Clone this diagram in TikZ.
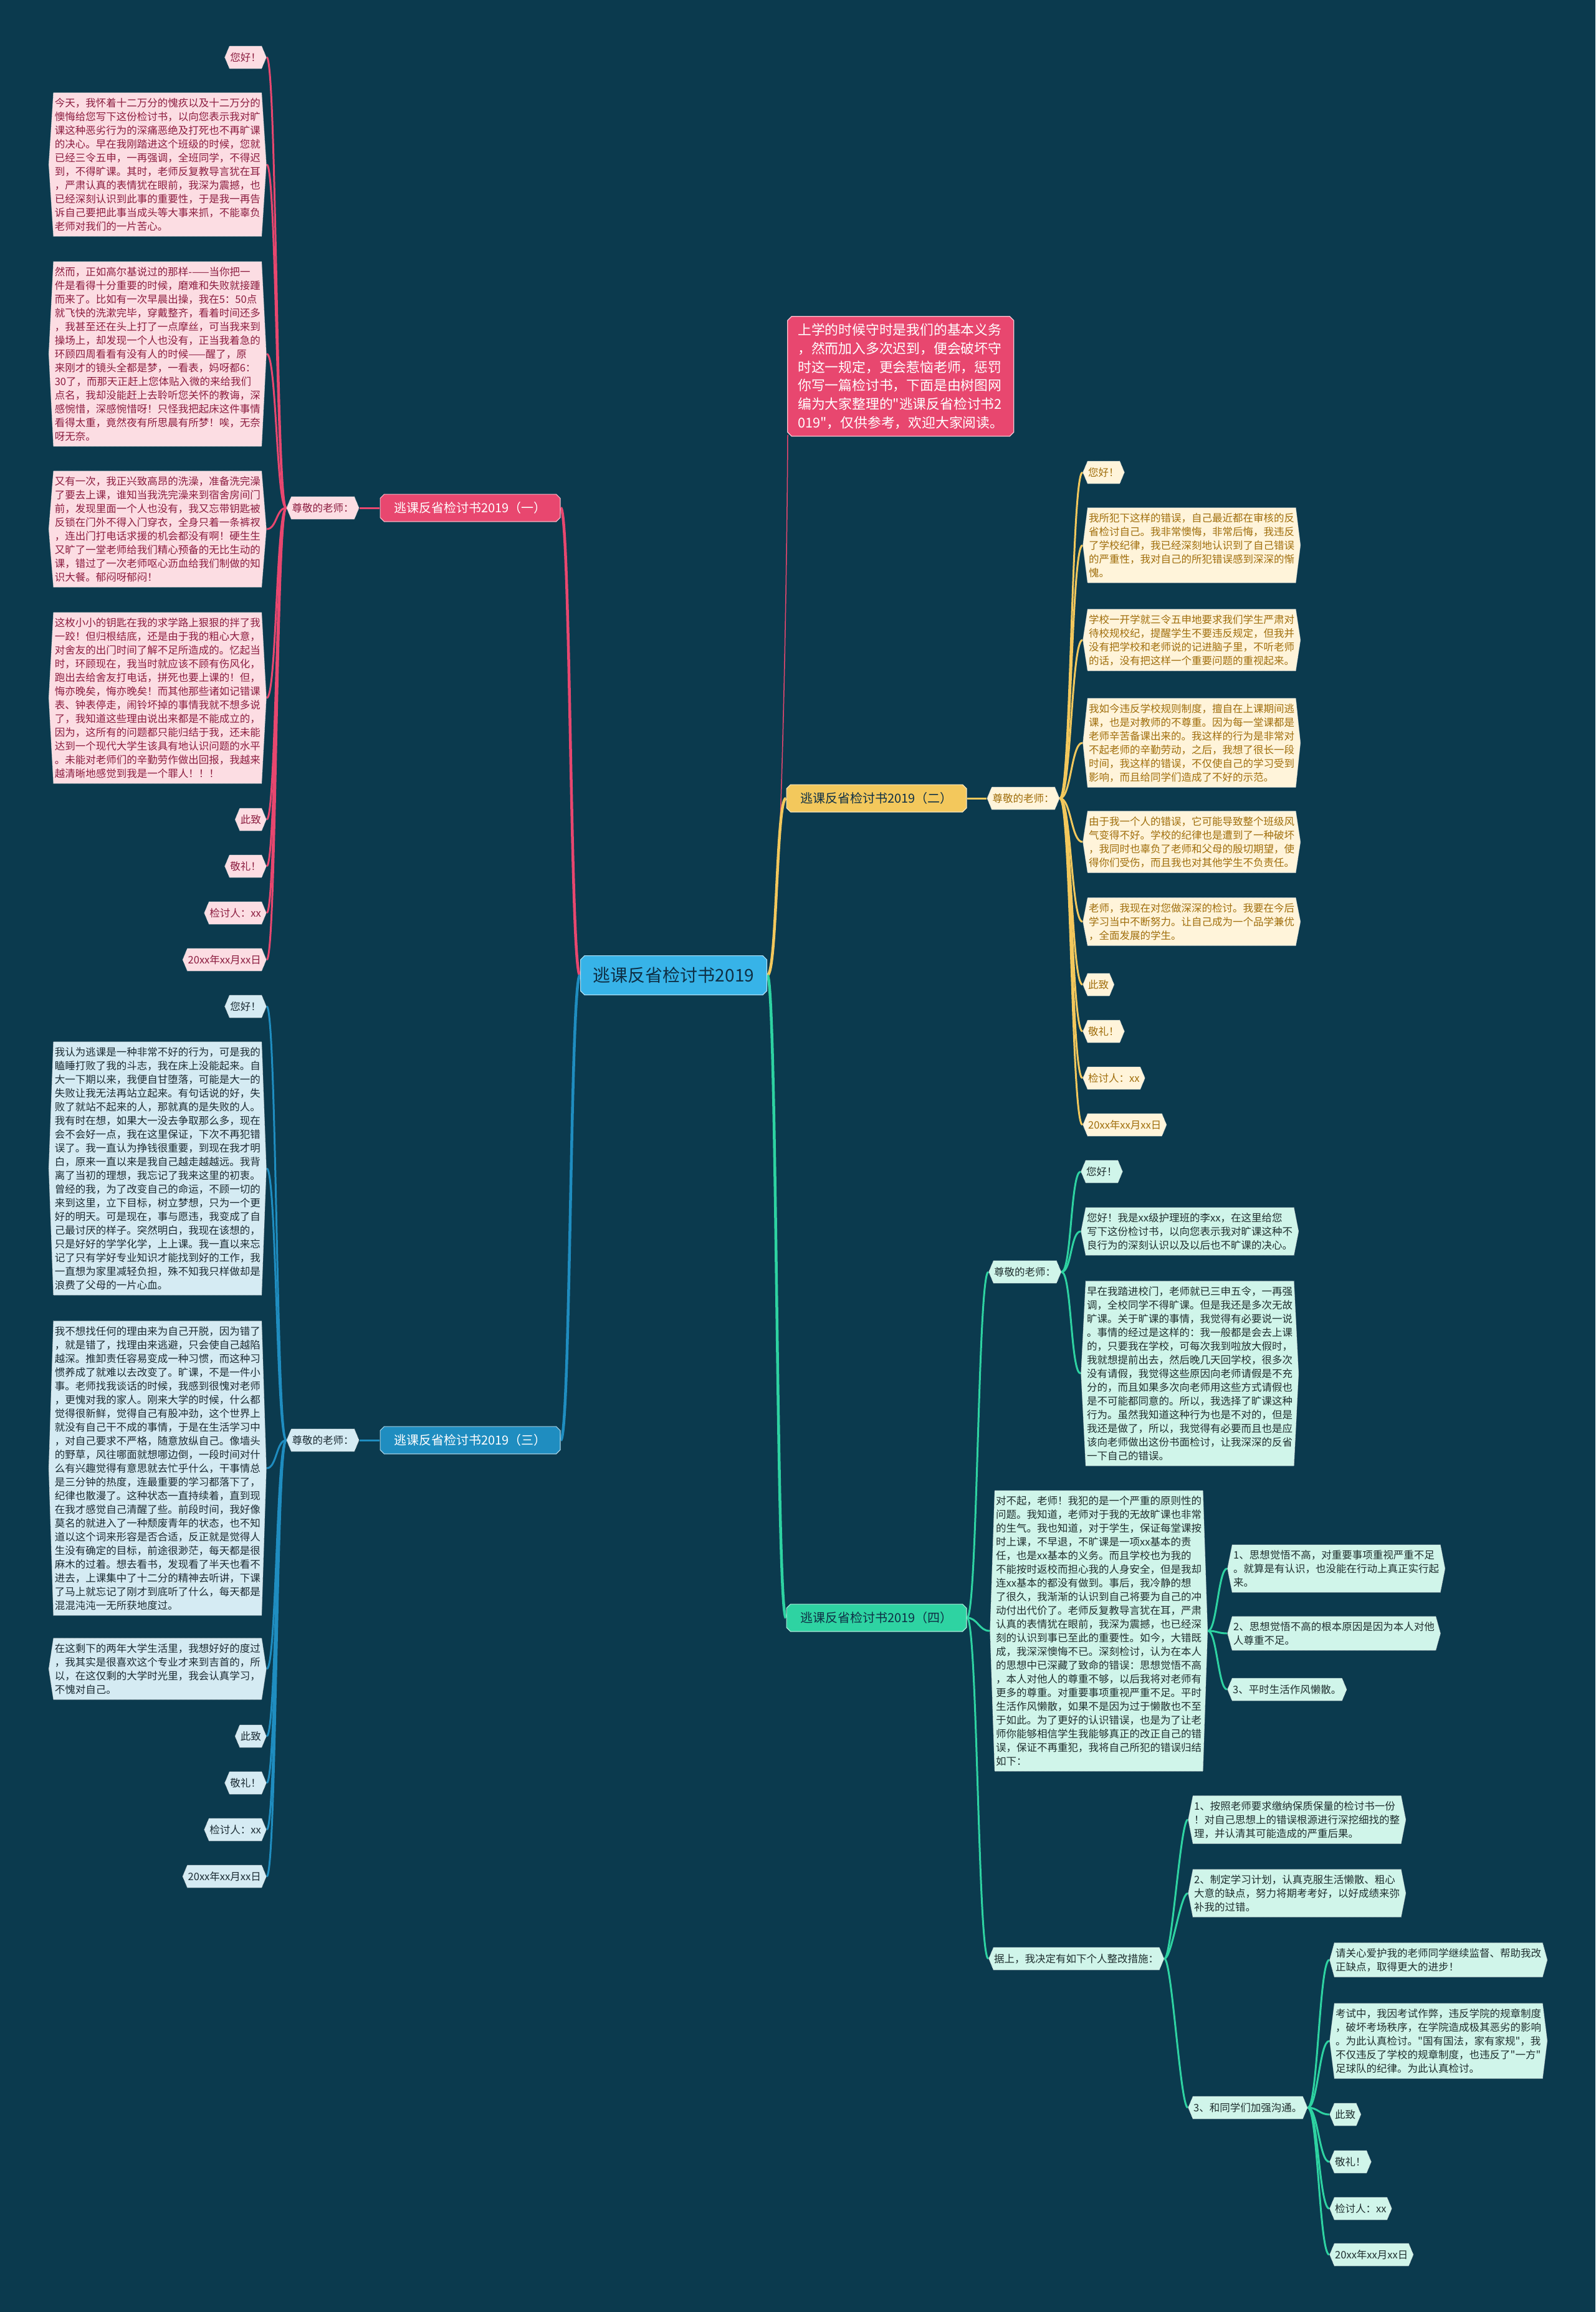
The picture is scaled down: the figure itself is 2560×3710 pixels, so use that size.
\documentclass[tikz,border=0pt]{standalone}
\usepackage{fontspec}
\newfontfamily\cjk{Noto Sans CJK SC}
\usetikzlibrary{calc}
\definecolor{bgc}{HTML}{0B3A4E}
\definecolor{pkl}{HTML}{E8476F}
\definecolor{pkf}{HTML}{FCDDE3}
\definecolor{pkt}{HTML}{8C1D40}
\definecolor{yll}{HTML}{F3C85C}
\definecolor{ylf}{HTML}{FFF4DA}
\definecolor{ylt}{HTML}{A06E0C}
\definecolor{bll}{HTML}{1F8DC0}
\definecolor{blf}{HTML}{D5EBF3}
\definecolor{blt}{HTML}{1B2B33}
\definecolor{gnl}{HTML}{2ED3A2}
\definecolor{gnf}{HTML}{D0F5EA}
\definecolor{gnt}{HTML}{1F2F2F}
\definecolor{rtf}{HTML}{37B3E8}
\definecolor{rtt}{HTML}{0E2F45}
\pgfdeclarelayer{bgl}
\pgfsetlayers{bgl,main}
\tikzset{
 hx/.style n args={3}{rectangle, draw=none, fill=none, inner xsep=10pt, inner ysep=9pt, align=left, text=#3,
   font=\cjk\fontsize{16.5}{22}\selectfont,
   path picture={\path[fill=#1, draw=#2, line width=0.8pt, dash pattern=on 1pt off 1pt]
     ([xshift=0.5pt]path picture bounding box.west) --
     ([xshift=8pt,yshift=-0.5pt]path picture bounding box.north west) --
     ([xshift=-8pt,yshift=-0.5pt]path picture bounding box.north east) --
     ([xshift=-0.5pt]path picture bounding box.east) --
     ([xshift=-8pt,yshift=0.5pt]path picture bounding box.south east) --
     ([xshift=8pt,yshift=0.5pt]path picture bounding box.south west) -- cycle;}},
 pk/.style={hx={pkf}{white!75!gray}{pkt}},
 yl/.style={hx={ylf}{white!75!gray}{ylt}},
 bl/.style={hx={blf}{white!75!gray}{blt}},
 gn/.style={hx={gnf}{white!75!gray}{gnt}},
 sm/.style={minimum height=37pt, inner xsep=9pt},
 oc/.style n args={3}{rectangle, draw=none, fill=none, text=#3, align=center,
   path picture={\path[fill=#1, draw=#2, line width=1.2pt]
     ([xshift=7pt,yshift=-0.6pt]path picture bounding box.north west) --
     ([xshift=-7pt,yshift=-0.6pt]path picture bounding box.north east) --
     ([xshift=-0.6pt,yshift=-7pt]path picture bounding box.north east) --
     ([xshift=-0.6pt,yshift=7pt]path picture bounding box.south east) --
     ([xshift=-7pt,yshift=0.6pt]path picture bounding box.south east) --
     ([xshift=7pt,yshift=0.6pt]path picture bounding box.south west) --
     ([xshift=0.6pt,yshift=7pt]path picture bounding box.south west) --
     ([xshift=0.6pt,yshift=-7pt]path picture bounding box.north west) -- cycle;}},
 br/.style={minimum width=290pt, minimum height=45pt, font=\cjk\fontsize{20}{24}\selectfont},
 cpk/.style={pkl, line width=3pt},
 cyl/.style={yll, line width=3pt},
 cbl/.style={bll, line width=3pt},
 cgn/.style={gnl, line width=3pt},
}
\newcommand\lnkR[4]{\draw[#1] (#2) .. controls ($(#2)+(#4,0)$) and ($(#3)+(-#4,0)$) .. (#3);}
\newcommand\lnkL[4]{\draw[#1] (#2) .. controls ($(#2)+(-#4,0)$) and ($(#3)+(#4,0)$) .. (#3);}
\begin{document}
\begin{tikzpicture}[x=1pt,y=-1pt]
\useasboundingbox (0,0) rectangle (2560,3710);
\begin{pgfonlayer}{bgl}
\fill[bgc] (0,0) rectangle (2560,3710);
\end{pgfonlayer}

% root and intro
\node[oc={rtf}{white!60!rtf}{rtt}, minimum width=300pt, minimum height=64pt, font=\cjk\fontsize{28}{34}\selectfont] (root) at (1081,1565) {逃课反省检讨书2019};
\node[oc={pkl}{white!70!pkl}{white}, anchor=north west, align=left, inner xsep=17pt, inner ysep=12pt, font=\cjk\fontsize{21.8}{29.7}\selectfont] (intro) at (1263,507) {上学的时候守时是我们的基本义务\\，然而加入多次迟到，便会破坏守\\时这一规定，更会惹恼老师，惩罚\\你写一篇检讨书，下面是由树图网\\编为大家整理的"逃课反省检讨书2\\019"，仅供参考，欢迎大家阅读。};

% branches
\node[oc={pkl}{white!60!pkl}{white}, br] (b1) at (754.5,815) {逃课反省检讨书2019（一）};
\node[oc={yll}{white!60!yll}{rtt}, br] (b2) at (1406.5,1281) {逃课反省检讨书2019（二）};
\node[oc={bll}{white!60!bll}{white}, br] (b3) at (754.5,2311) {逃课反省检讨书2019（三）};
\node[oc={gnl}{white!60!gnl}{rtt}, br] (b4) at (1406.5,2596) {逃课反省检讨书2019（四）};

% ---------- branch 1 ----------
\node[pk, sm] (L1) at (518,815) {尊敬的老师：};
\node[pk, sm, anchor=east] (p1) at (428,92) {您好！};
\node[pk, anchor=east] (p2) at (428,264) {今天，我怀着十二万分的愧疚以及十二万分的\\懊悔给您写下这份检讨书，以向您表示我对旷\\课这种恶劣行为的深痛恶绝及打死也不再旷课\\的决心。早在我刚踏进这个班级的时候，您就\\已经三令五申，一再强调，全班同学，不得迟\\到，不得旷课。其时，老师反复教导言犹在耳\\，严肃认真的表情犹在眼前，我深为震撼，也\\已经深刻认识到此事的重要性，于是我一再告\\诉自己要把此事当成头等大事来抓，不能辜负\\老师对我们的一片苦心。};
\node[pk, anchor=east] (p3) at (428,568) {然而，正如高尔基说过的那样-——当你把一\\件是看得十分重要的时候，磨难和失败就接踵\\而来了。比如有一次早晨出操，我在5：50点\\就飞快的洗漱完毕，穿戴整齐，看着时间还多\\，我甚至还在头上打了一点摩丝，可当我来到\\操场上，却发现一个人也没有，正当我着急的\\环顾四周看看有没有人的时候——醒了，原\\来刚才的镜头全都是梦，一看表，妈呀都6：\\30了，而那天正赶上您体贴入微的来给我们\\点名，我却没能赶上去聆听您关怀的教诲，深\\感惋惜，深感惋惜呀！只怪我把起床这件事情\\看得太重，竟然夜有所思晨有所梦！唉，无奈\\呀无奈。};
\node[pk, anchor=east] (p4) at (428,849) {又有一次，我正兴致高昂的洗澡，准备洗完澡\\了要去上课，谁知当我洗完澡来到宿舍房间门\\前，发现里面一个人也没有，我又忘带钥匙被\\反锁在门外不得入门穿衣，全身只着一条裤衩\\，连出门打电话求援的机会都没有啊！硬生生\\又旷了一堂老师给我们精心预备的无比生动的\\课，错过了一次老师呕心沥血给我们制做的知\\识大餐。郁闷呀郁闷！};
\node[pk, anchor=east] (p5) at (428,1120) {这枚小小的钥匙在我的求学路上狠狠的拌了我\\一跤！但归根结底，还是由于我的粗心大意，\\对舍友的出门时间了解不足所造成的。忆起当\\时，环顾现在，我当时就应该不顾有伤风化，\\跑出去给舍友打电话，拼死也要上课的！但，\\悔亦晚矣，悔亦晚矣！而其他那些诸如记错课\\表、钟表停走，闹铃坏掉的事情我就不想多说\\了，我知道这些理由说出来都是不能成立的，\\因为，这所有的问题都只能归结于我，还未能\\达到一个现代大学生该具有地认识问题的水平\\。未能对老师们的辛勤劳作做出回报，我越来\\越清晰地感觉到我是一个罪人！！！};
\node[pk, sm, anchor=east] (p6) at (428,1315) {此致};
\node[pk, sm, anchor=east] (p7) at (428,1390) {敬礼！};
\node[pk, sm, anchor=east] (p8) at (428,1465) {检讨人：xx};
\node[pk, sm, anchor=east] (p9) at (428,1540) {20xx年xx月xx日};

% ---------- branch 3 ----------
\node[bl, sm] (L3) at (518,2311) {尊敬的老师：};
\node[bl, sm, anchor=east] (q1) at (428,1615) {您好！};
\node[bl, anchor=east] (q2) at (428,1875) {我认为逃课是一种非常不好的行为，可是我的\\瞌睡打败了我的斗志，我在床上没能起来。自\\大一下期以来，我便自甘堕落，可能是大一的\\失败让我无法再站立起来。有句话说的好，失\\败了就站不起来的人，那就真的是失败的人。\\我有时在想，如果大一没去争取那么多，现在\\会不会好一点，我在这里保证，下次不再犯错\\误了。我一直认为挣钱很重要，到现在我才明\\白，原来一直以来是我自己越走越越远。我背\\离了当初的理想，我忘记了我来这里的初衷。\\曾经的我，为了改变自己的命运，不顾一切的\\来到这里，立下目标，树立梦想，只为一个更\\好的明天。可是现在，事与愿违，我变成了自\\己最讨厌的样子。突然明白，我现在该想的，\\只是好好的学学化学，上上课。我一直以来忘\\记了只有学好专业知识才能找到好的工作，我\\一直想为家里减轻负担，殊不知我只样做却是\\浪费了父母的一片心血。};
\node[bl, anchor=east] (q3) at (428,2356) {我不想找任何的理由来为自己开脱，因为错了\\，就是错了，找理由来逃避，只会使自己越陷\\越深。推卸责任容易变成一种习惯，而这种习\\惯养成了就难以去改变了。旷课，不是一件小\\事。老师找我谈话的时候，我感到很愧对老师\\，更愧对我的家人。刚来大学的时候，什么都\\觉得很新鲜，觉得自己有股冲劲，这个世界上\\就没有自己干不成的事情，于是在生活学习中\\，对自己要求不严格，随意放纵自己。像墙头\\的野草，风往哪面就想哪边倒，一段时间对什\\么有兴趣觉得有意思就去忙乎什么，干事情总\\是三分钟的热度，连最重要的学习都落下了，\\纪律也散漫了。这种状态一直持续着，直到现\\在我才感觉自己清醒了些。前段时间，我好像\\莫名的就进入了一种颓废青年的状态，也不知\\道以这个词来形容是否合适，反正就是觉得人\\生没有确定的目标，前途很渺茫，每天都是很\\麻木的过着。想去看书，发现看了半天也看不\\进去，上课集中了十二分的精神去听讲，下课\\了马上就忘记了刚才到底听了什么，每天都是\\混混沌沌一无所获地度过。};
\node[bl, anchor=east] (q4) at (428,2678) {在这剩下的两年大学生活里，我想好好的度过\\，我其实是很喜欢这个专业才来到吉首的，所\\以，在这仅剩的大学时光里，我会认真学习，\\不愧对自己。};
\node[bl, sm, anchor=east] (q5) at (428,2786) {此致};
\node[bl, sm, anchor=east] (q6) at (428,2861) {敬礼！};
\node[bl, sm, anchor=east] (q7) at (428,2936) {检讨人：xx};
\node[bl, sm, anchor=east] (q8) at (428,3011) {20xx年xx月xx日};

% ---------- branch 2 ----------
\node[yl, sm] (L2) at (1642,1281) {尊敬的老师：};
\node[yl, sm, anchor=west] (y1) at (1737,758) {您好！};
\node[yl, anchor=west] (y2) at (1737,875) {我所犯下这样的错误，自己最近都在审核的反\\省检讨自己。我非常懊悔，非常后悔，我违反\\了学校纪律，我已经深刻地认识到了自己错误\\的严重性，我对自己的所犯错误感到深深的惭\\愧。};
\node[yl, anchor=west] (y3) at (1737,1027) {学校一开学就三令五申地要求我们学生严肃对\\待校规校纪，提醒学生不要违反规定，但我并\\没有把学校和老师说的记进脑子里，不听老师\\的话，没有把这样一个重要问题的重视起来。};
\node[yl, anchor=west] (y4) at (1737,1192) {我如今违反学校规则制度，擅自在上课期间逃\\课，也是对教师的不尊重。因为每一堂课都是\\老师辛苦备课出来的。我这样的行为是非常对\\不起老师的辛勤劳动，之后，我想了很长一段\\时间，我这样的错误，不仅使自己的学习受到\\影响，而且给同学们造成了不好的示范。};
\node[yl, anchor=west] (y5) at (1737,1351) {由于我一个人的错误，它可能导致整个班级风\\气变得不好。学校的纪律也是遭到了一种破坏\\，我同时也辜负了老师和父母的殷切期望，使\\得你们受伤，而且我也对其他学生不负责任。};
\node[yl, anchor=west] (y6) at (1737,1479) {老师，我现在对您做深深的检讨。我要在今后\\学习当中不断努力。让自己成为一个品学兼优\\，全面发展的学生。};
\node[yl, sm, anchor=west] (y7) at (1737,1580) {此致};
\node[yl, sm, anchor=west] (y8) at (1737,1655) {敬礼！};
\node[yl, sm, anchor=west] (y9) at (1737,1730) {检讨人：xx};
\node[yl, sm, anchor=west] (y10) at (1737,1805) {20xx年xx月xx日};

% ---------- branch 4 ----------
\node[gn, sm, anchor=west] (L4) at (1586,2041) {尊敬的老师：};
\node[gn, sm, anchor=west] (g1) at (1734,1880) {您好！};
\node[gn, anchor=west] (g2) at (1734,1976) {您好！我是xx级护理班的李xx，在这里给您\\写下这份检讨书，以向您表示我对旷课这种不\\良行为的深刻认识以及以后也不旷课的决心。};
\node[gn, anchor=west] (g3) at (1734,2204) {早在我踏进校门，老师就已三申五令，一再强\\调，全校同学不得旷课。但是我还是多次无故\\旷课。关于旷课的事情，我觉得有必要说一说\\。事情的经过是这样的：我一般都是会去上课\\的，只要我在学校，可每次我到啦放大假时，\\我就想提前出去，然后晚几天回学校，很多次\\没有请假，我觉得这些原因向老师请假是不充\\分的，而且如果多次向老师用这些方式请假也\\是不可能都同意的。所以，我选择了旷课这种\\行为。虽然我知道这种行为也是不对的，但是\\我还是做了，所以，我觉得有必要而且也是应\\该向老师做出这份书面检讨，让我深深的反省\\一下自己的错误。};
\node[gn, anchor=west] (g4) at (1588,2617) {对不起，老师！我犯的是一个严重的原则性的\\问题。我知道，老师对于我的无故旷课也非常\\的生气。我也知道，对于学生，保证每堂课按\\时上课，不早退，不旷课是一项xx基本的责\\任，也是xx基本的义务。而且学校也为我的\\不能按时返校而担心我的人身安全，但是我却\\连xx基本的都没有做到。事后，我冷静的想\\了很久，我渐渐的认识到自己将要为自己的冲\\动付出代价了。老师反复教导言犹在耳，严肃\\认真的表情犹在眼前，我深为震撼，也已经深\\刻的认识到事已至此的重要性。如今，大错既\\成，我深深懊悔不已。深刻检讨，认为在本人\\的思想中已深藏了致命的错误：思想觉悟不高\\，本人对他人的尊重不够，以后我将对老师有\\更多的尊重。对重要事项重视严重不足。平时\\生活作风懒散，如果不是因为过于懒散也不至\\于如此。为了更好的认识错误，也是为了让老\\师你能够相信学生我能够真正的改正自己的错\\误，保证不再重犯，我将自己所犯的错误归结\\如下：};
\node[gn, anchor=west] (h1) at (1969,2517) {1、思想觉悟不高，对重要事项重视严重不足\\。就算是有认识，也没能在行动上真正实行起\\来。};
\node[gn, anchor=west] (h2) at (1969,2621) {2、思想觉悟不高的根本原因是因为本人对他\\人尊重不足。};
\node[gn, sm, anchor=west] (h3) at (1969,2711) {3、平时生活作风懒散。};
\node[gn, sm, anchor=west] (L5) at (1586,3143) {据上，我决定有如下个人整改措施：};
\node[gn, anchor=west] (k1) at (1906,2920) {1、按照老师要求缴纳保质保量的检讨书一份\\！对自己思想上的错误根源进行深挖细找的整\\理，并认清其可能造成的严重后果。};
\node[gn, anchor=west] (k2) at (1906,3038) {2、制定学习计划，认真克服生活懒散、粗心\\大意的缺点，努力将期考考好，以好成绩来弥\\补我的过错。};
\node[gn, sm, anchor=west] (k3) at (1906,3382) {3、和同学们加强沟通。};
\node[gn, anchor=west] (m1) at (2133,3145) {请关心爱护我的老师同学继续监督、帮助我改\\正缺点，取得更大的进步！};
\node[gn, anchor=west] (m2) at (2133,3275) {考试中，我因考试作弊，违反学院的规章制度\\，破坏考场秩序，在学院造成极其恶劣的影响\\。为此认真检讨。"国有国法，家有家规"，我\\不仅违反了学校的规章制度，也违反了"一方"\\足球队的纪律。为此认真检讨。};
\node[gn, sm, anchor=west] (m3) at (2133,3393) {此致};
\node[gn, sm, anchor=west] (m4) at (2133,3469) {敬礼！};
\node[gn, sm, anchor=west] (m5) at (2133,3544) {检讨人：xx};
\node[gn, sm, anchor=west] (m6) at (2133,3618) {20xx年xx月xx日};

% ---------- connectors ----------
\begin{pgfonlayer}{bgl}
\draw[pkl, line width=1.5pt] (root.east) .. controls ($(root.east)+(22,0)$) and ($(intro.south west)+(0,200)$) .. ($(intro.south west)+(1,-3)$);
\lnkL{pkl, line width=4.5pt}{root.west}{b1.east}{16}
\lnkL{bll, line width=4.5pt}{root.west}{b3.east}{16}
\lnkR{yll, line width=4.5pt}{root.east}{b2.west}{16}
\lnkR{gnl, line width=4.5pt}{root.east}{b4.west}{16}

\draw[cpk] (b1.west) -- (L1.east);
\foreach \n in {p1,p2,p3,p4,p5,p6,p7,p8,p9} {\lnkL{cpk}{L1.west}{\n.east}{16}}
\draw[cbl] (b3.west) -- (L3.east);
\foreach \n in {q1,q2,q3,q4,q5,q6,q7,q8} {\lnkL{cbl}{L3.west}{\n.east}{16}}
\draw[cyl] (b2.east) -- (L2.west);
\foreach \n in {y1,y2,y3,y4,y5,y6,y7,y8,y9,y10} {\lnkR{cyl}{L2.east}{\n.west}{18}}
\lnkR{cgn}{b4.east}{L4.west}{17}
\lnkR{cgn}{b4.east}{g4.west}{17}
\lnkR{cgn}{b4.east}{L5.west}{17}
\foreach \n in {g1,g2,g3} {\lnkR{cgn}{L4.east}{\n.west}{16}}
\foreach \n in {h1,h2,h3} {\lnkR{cgn}{g4.east}{\n.west}{14}}
\foreach \n in {k1,k2,k3} {\lnkR{cgn}{L5.east}{\n.west}{12}}
\foreach \n in {m1,m2,m3,m4,m5,m6} {\lnkR{cgn}{k3.east}{\n.west}{16}}
\end{pgfonlayer}
\end{tikzpicture}
\end{document}
